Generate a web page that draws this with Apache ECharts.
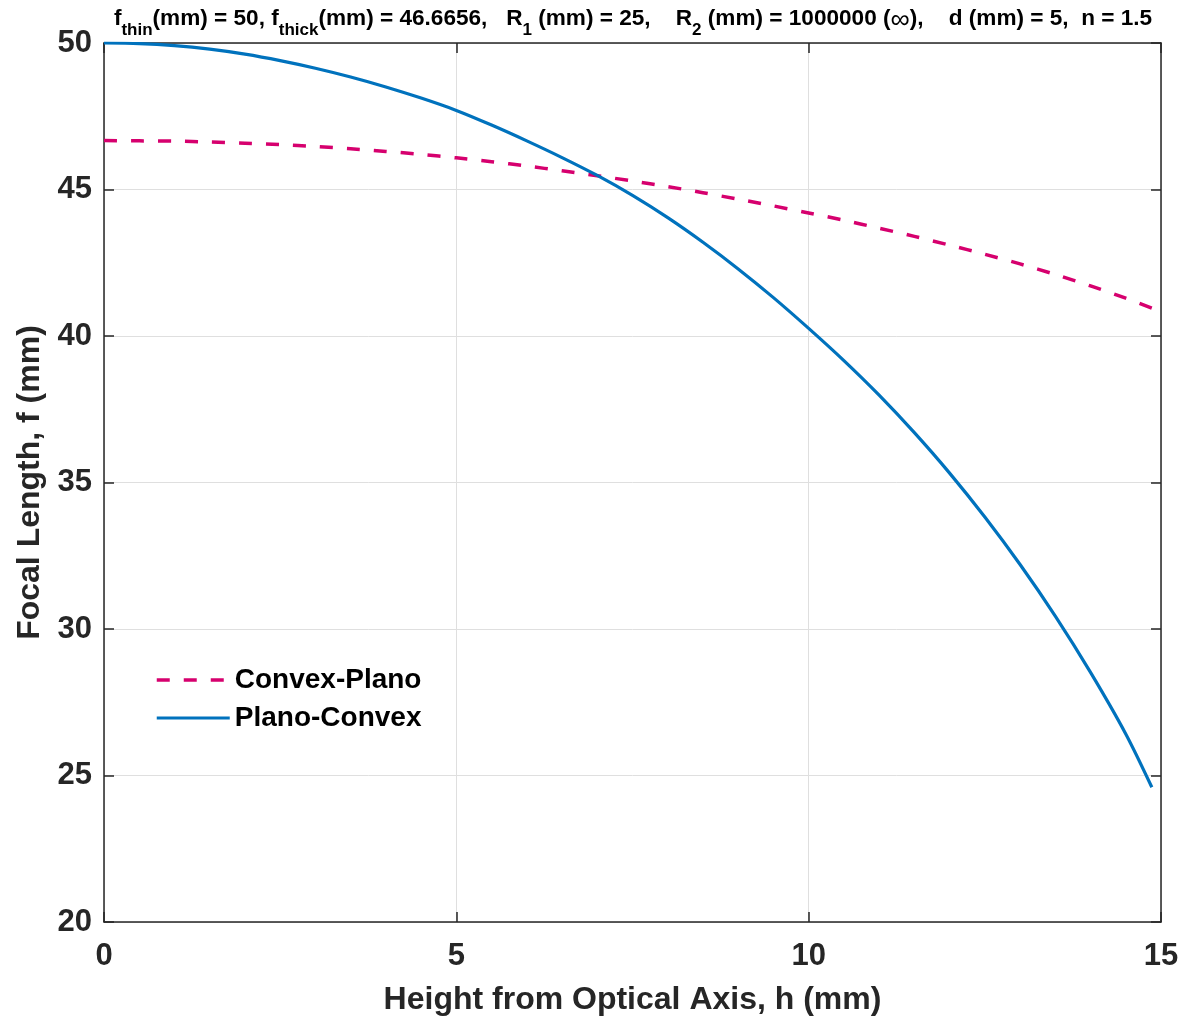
<!DOCTYPE html>
<html>
<head>
<meta charset="utf-8">
<title>Focal Length vs Height from Optical Axis</title>
<script src="https://cdn.jsdelivr.net/npm/echarts@6/dist/echarts.min.js"></script>
<style>
  html, body { margin: 0; padding: 0; background: #ffffff; }
  #chart { width: 1183px; height: 1018px; }
</style>
</head>
<body>
<div id="chart"></div>
<script>
// Ray height h (mm) at which each focal length is evaluated
const heightPlano = [0, 0.5, 1, 1.5, 2, 2.5, 3, 3.5, 4, 4.5, 5, 5.5, 6, 6.5, 7, 7.5, 8, 8.5, 9, 9.5,
  10, 10.5, 11, 11.5, 12, 12.5, 13, 13.5, 14, 14.5, 14.87];

// Convex-Plano lens: focal length (mm) per ray height
const focalConvexPlano = [46.67, 46.66, 46.65, 46.62, 46.58, 46.53, 46.47, 46.39, 46.30, 46.20,
  46.08, 45.95, 45.80, 45.64, 45.47, 45.29, 45.10, 44.89, 44.67, 44.44,
  44.20, 43.95, 43.68, 43.40, 43.10, 42.79, 42.46, 42.10, 41.71, 41.29, 40.95];

// Plano-Convex lens: focal length (mm) per ray height
const focalPlanoConvex = [50.00, 49.98, 49.91, 49.79, 49.62, 49.40, 49.14, 48.84, 48.50, 48.12,
  47.70, 47.20, 46.66, 46.09, 45.48, 44.80, 44.04, 43.20, 42.29, 41.31,
  40.26, 39.16, 37.98, 36.70, 35.32, 33.82, 32.20, 30.44, 28.52, 26.42, 24.60];

const seriesNames = ['Convex-Plano', 'Plano-Convex'];
const xTicks = { min: 0, max: 15, step: 5 };
const yTicks = { min: 20, max: 50, step: 5 };

const toPairs = (xs, ys) => xs.map((x, i) => [x, ys[i]]);

const axisColor = '#262626';
const gridColor = '#dfdfdf';
const magenta = '#D6006E';
const blue = '#0072BD';
const dashPattern = [13, 14];
const fontFamily = '"Liberation Sans", Arial, Helvetica, sans-serif';

const chart = echarts.init(document.getElementById('chart'), null, { renderer: 'canvas' });

// Title with subscripts drawn as rich-text fragments
const titleText =
  '{b|f}{s|thin}{b|(mm) = 50, f}{s|thick}{b|(mm) = 46.6656,   R}{s|1}' +
  '{b| (mm) = 25,    R}{s|2}{b| (mm) = 1000000 (}{i|\u221E}{b|),    d (mm) = 5,  n = 1.5}';

const boxAxis = {
  axisLine: { show: true, onZero: false, lineStyle: { color: axisColor, width: 1.5 } },
  axisTick: { show: true, inside: true, length: 10, lineStyle: { color: axisColor, width: 1.5 } },
  splitLine: { show: false },
  axisLabel: { show: false }
};

chart.setOption({
  backgroundColor: '#ffffff',
  animation: false,
  title: {
    text: titleText,
    left: 633,
    top: 7,
    padding: 0,
    textAlign: 'center',
    textStyle: {
      rich: {
        b: { fontFamily, fontSize: 22.6, fontWeight: 'bold', color: '#000000', lineHeight: 32, verticalAlign: 'top' },
        s: { fontFamily, fontSize: 17, fontWeight: 'bold', color: '#000000', lineHeight: 32, verticalAlign: 'bottom' },
        i: { fontFamily, fontSize: 27, fontWeight: 'normal', color: '#000000', lineHeight: 32, verticalAlign: 'top' }
      }
    }
  },
  grid: { left: 104, right: 22, top: 43, bottom: 96, containLabel: false, outerBoundsMode: 'none' },
  legend: {
    data: [
      { name: seriesNames[0], lineStyle: { color: magenta, width: 3.5, type: dashPattern, cap: 'butt' } },
      { name: seriesNames[1], lineStyle: { color: blue, width: 3.2, type: 'solid' } }
    ],
    orient: 'vertical',
    left: 155,
    top: 665,
    padding: 0,
    itemWidth: 73,
    itemHeight: 14,
    itemGap: 8,
    itemStyle: { opacity: 0 },
    textStyle: { fontFamily, fontSize: 28, fontWeight: 'bold', color: '#000000', lineHeight: 30 }
  },
  xAxis: [
    {
      type: 'value', position: 'bottom',
      min: xTicks.min, max: xTicks.max, interval: xTicks.step,
      name: 'Height from Optical Axis, h (mm)',
      nameLocation: 'middle', nameGap: 62,
      nameTextStyle: { fontFamily, fontSize: 32, fontWeight: 'bold', color: axisColor },
      axisLine: { show: true, onZero: false, lineStyle: { color: axisColor, width: 1.5 } },
      axisTick: { show: true, inside: true, length: 10, lineStyle: { color: axisColor, width: 1.5 } },
      axisLabel: { fontFamily, fontSize: 31, fontWeight: 'bold', color: axisColor, margin: 19 },
      splitLine: { show: true, lineStyle: { color: gridColor, width: 1 } }
    },
    Object.assign({ type: 'value', position: 'top', min: xTicks.min, max: xTicks.max, interval: xTicks.step }, boxAxis)
  ],
  yAxis: [
    {
      type: 'value', position: 'left',
      min: yTicks.min, max: yTicks.max, interval: yTicks.step,
      name: 'Focal Length, f (mm)',
      nameLocation: 'middle', nameGap: 54, nameRotate: 90,
      nameTextStyle: { fontFamily, fontSize: 32, fontWeight: 'bold', color: axisColor },
      axisLine: { show: true, onZero: false, lineStyle: { color: axisColor, width: 1.5 } },
      axisTick: { show: true, inside: true, length: 10, lineStyle: { color: axisColor, width: 1.5 } },
      axisLabel: { fontFamily, fontSize: 31, fontWeight: 'bold', color: axisColor, margin: 12, padding: [5, 0, 0, 0] },
      splitLine: { show: true, lineStyle: { color: gridColor, width: 1 } }
    },
    Object.assign({ type: 'value', position: 'right', min: yTicks.min, max: yTicks.max, interval: yTicks.step }, boxAxis)
  ],
  series: [
    {
      name: seriesNames[0],
      type: 'line',
      xAxisIndex: 0, yAxisIndex: 0,
      data: toPairs(heightPlano, focalConvexPlano),
      symbol: 'none',
      smooth: 0.3,
      lineStyle: { color: magenta, width: 3.5, type: dashPattern, cap: 'butt' },
      itemStyle: { color: magenta },
      z: 3
    },
    {
      name: seriesNames[1],
      type: 'line',
      xAxisIndex: 0, yAxisIndex: 0,
      data: toPairs(heightPlano, focalPlanoConvex),
      symbol: 'none',
      smooth: 0.3,
      lineStyle: { color: blue, width: 3.2, type: 'solid' },
      itemStyle: { color: blue },
      z: 4
    }
  ]
});
</script>
</body>
</html>
